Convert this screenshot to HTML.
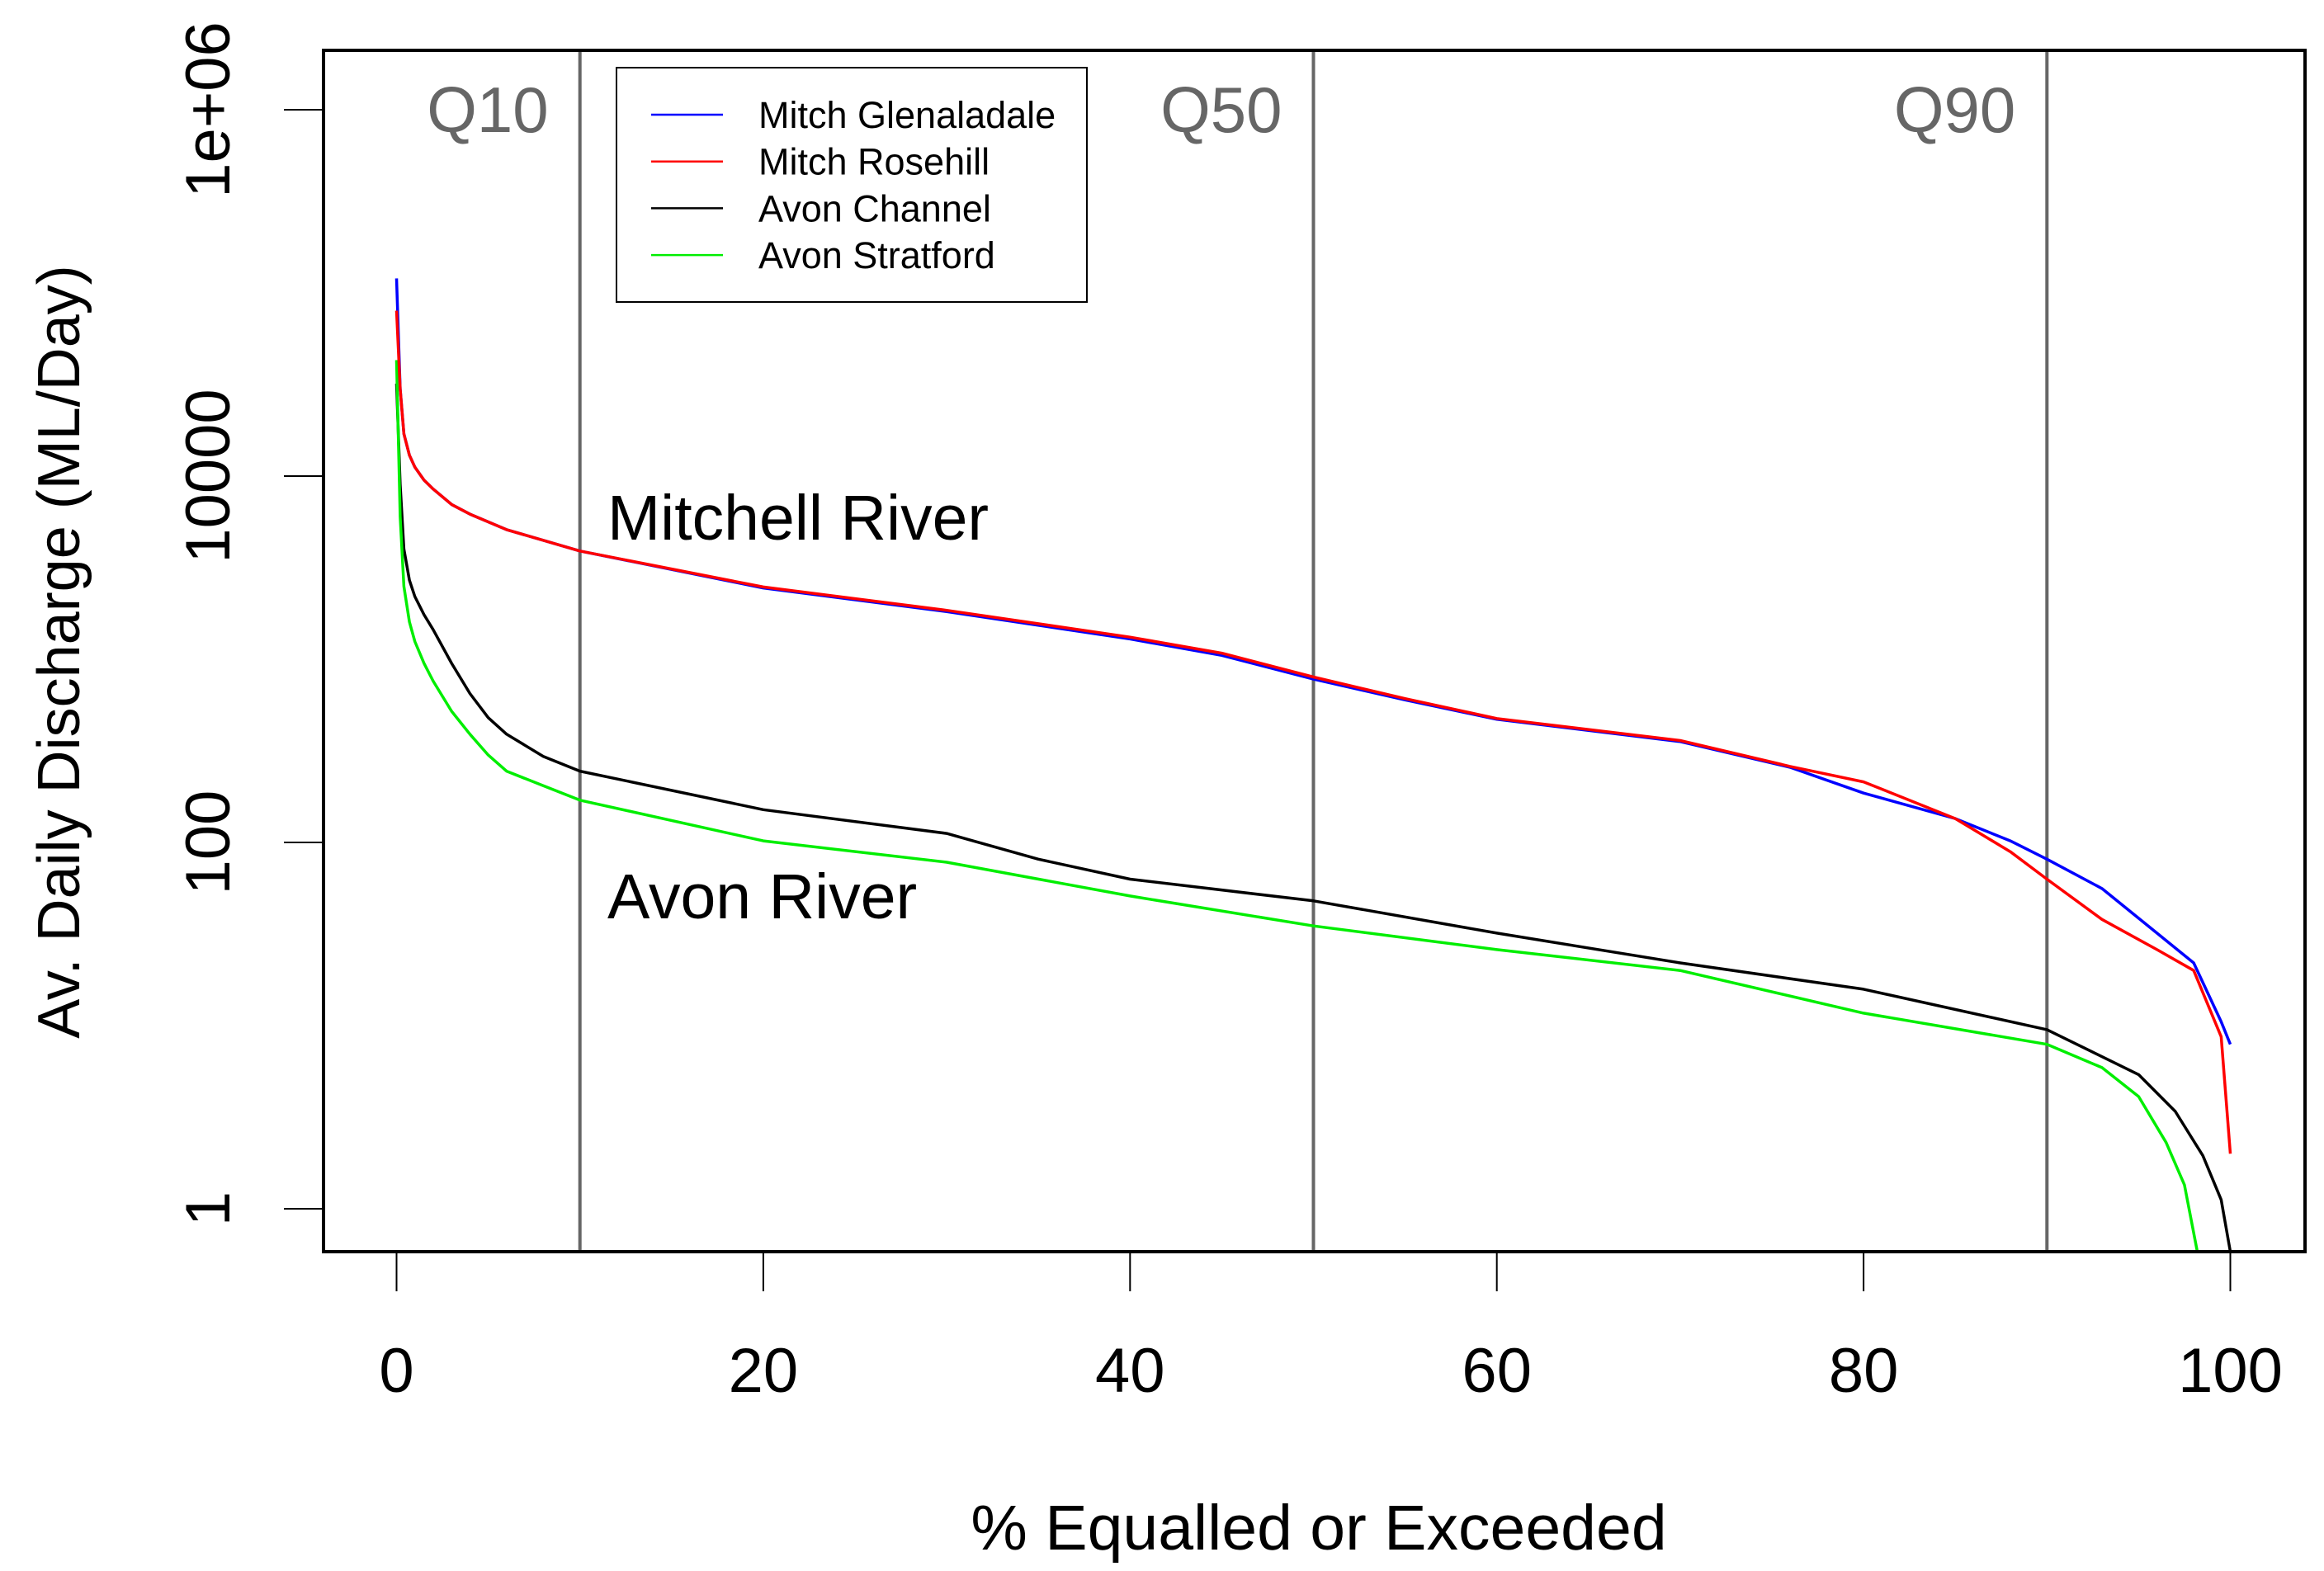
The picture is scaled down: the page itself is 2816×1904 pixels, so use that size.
<!DOCTYPE html>
<html><head><meta charset="utf-8"><style>
html,body{margin:0;padding:0;background:#fff;}
svg{display:block;font-family:"Liberation Sans",sans-serif;}
</style></head><body>
<svg id="chart" width="2816" height="1904" viewBox="0 0 2816 1904">
<rect width="2816" height="1904" fill="#fff"/>
<g id="grid"></g>
<g id="series"></g>
<rect x="392" y="61" width="2401" height="1456" fill="none" stroke="#000" stroke-width="4"/>
<g id="axes"></g>
<g>
<rect x="747" y="82" width="570" height="284" fill="#fff" stroke="#000" stroke-width="2"/>
<g id="legend"></g>
</g>
<text x="736" y="654" font-size="77">Mitchell River</text>
<text x="736" y="1113" font-size="77">Avon River</text>
<text x="1598" y="1878" font-size="77" text-anchor="middle">% Equalled or Exceeded</text>
<text transform="translate(96,790) rotate(-90)" font-size="72" text-anchor="middle">Av. Daily Discharge (ML/Day)</text>
</svg>
<script>
const xTicks=[0,20,40,60,80,100];
const yTicks=[1,100,10000,1000000];
const yTickLabels=["1","100","10000","1e+06"];
const qLines=[10,50,90];
const qLabels=["Q10","Q50","Q90"];
const seriesNames=["Mitch Glenaladale","Mitch Rosehill","Avon Channel","Avon Stratford"];
const seriesColors=["#0000ff","#ff0000","#000000","#00ee00"];
const mitchGlenX=[0,0.2,0.4,0.7,1,1.5,2,3,4,6,10,20,30,40,45,50,55,60,70,76,80,85,88,90,93,96,98,99.5,100];
const mitchGlenY=[120000,30000,17000,13000,11200,9500,8500,7000,6200,5100,3900,2450,1820,1290,1050,780,600,470,355,257,186,135,102,81,56,32,22,10.5,7.9];
const mitchRoseX=[0,0.2,0.4,0.7,1,1.5,2,3,4,6,10,20,30,40,45,50,55,60,70,76,80,85,88,90,93,96,98,99.5,100];
const mitchRoseY=[80000,30000,17000,13000,11200,9500,8500,7000,6200,5100,3900,2480,1850,1320,1080,800,610,475,360,260,214,135,89,63,38,26,20,8.7,2];
const avonChanX=[0,0.2,0.4,0.7,1,1.5,2,3,4,5,6,8,10,20,30,35,40,50,60,70,80,90,95,97,98.5,99.5,100];
const avonChanY=[32000,9000,4000,2700,2200,1750,1450,950,650,480,390,295,245,151,112,81,63,48,32,22,15.8,9.5,5.4,3.4,1.95,1.12,0.58];
const avonStratX=[0,0.2,0.4,0.7,1,1.5,2,3,4,5,6,8,10,20,30,40,50,60,70,80,90,93,95,96.5,97.5,98.2];
const avonStratY=[43000,6000,2500,1600,1250,950,760,520,390,300,245,204,170,102,78,51,35,26,20,11.7,7.9,5.9,4.1,2.3,1.35,0.58];

const NS="http://www.w3.org/2000/svg";
function xs(v){return 480.5+v*22.22;}
function ys(v){return 1465-222*Math.log10(v);}
function mk(tag,attrs,parent){const e=document.createElementNS(NS,tag);for(const k in attrs)e.setAttribute(k,attrs[k]);parent.appendChild(e);return e;}
const grid=document.getElementById('grid'),axes=document.getElementById('axes'),ser=document.getElementById('series'),leg=document.getElementById('legend');
qLines.forEach((q,i)=>{
  const l=mk('line',{x1:xs(q),x2:xs(q),y1:61,y2:1517,stroke:'#666','stroke-width':4},grid);
  
  
  const t=mk('text',{x:xs(q)-38,y:160,'font-size':78,fill:'#666','text-anchor':'end'},grid);
  t.textContent=qLabels[i];
  
  
});
xTicks.forEach(v=>{
  const l=mk('line',{x1:xs(v),x2:xs(v),y1:1517,y2:1565,stroke:'#000','stroke-width':2},axes);
  
  
  const t=mk('text',{x:xs(v),y:1687,'font-size':76,'text-anchor':'middle'},axes);
  t.textContent=v;
  
  
});
yTicks.forEach((v,i)=>{
  const l=mk('line',{x1:344,x2:392,y1:ys(v),y2:ys(v),stroke:'#000','stroke-width':2},axes);
  
  
  const t=mk('text',{transform:'translate(278,'+ys(v)+') rotate(-90)','font-size':76,'text-anchor':'middle'},axes);
  t.textContent=yTickLabels[i];
  
  
});
const all=[[mitchGlenX,mitchGlenY],[mitchRoseX,mitchRoseY],[avonChanX,avonChanY],[avonStratX,avonStratY]];
const order=[2,3,0,1];
order.forEach(i=>{
  const [X,Y]=all[i];
  const d=X.map((x,j)=>(j?'L':'M')+xs(x).toFixed(1)+','+Math.min(1517,ys(Y[j])).toFixed(1)).join('');
  const p=mk('path',{d:d,fill:'none',stroke:seriesColors[i],'stroke-width':3.5,'stroke-linejoin':'round'},ser);
  
  
});
seriesNames.forEach((n,i)=>{
  const y=139+i*56.7;
  const l=mk('line',{x1:789,x2:876,y1:y,y2:y,stroke:seriesColors[i],'stroke-width':2.5},leg);
  
  
  const t=mk('text',{x:919,y:y+16,'font-size':45},leg);
  t.textContent=n;
  
  
});
</script>
</body></html>
